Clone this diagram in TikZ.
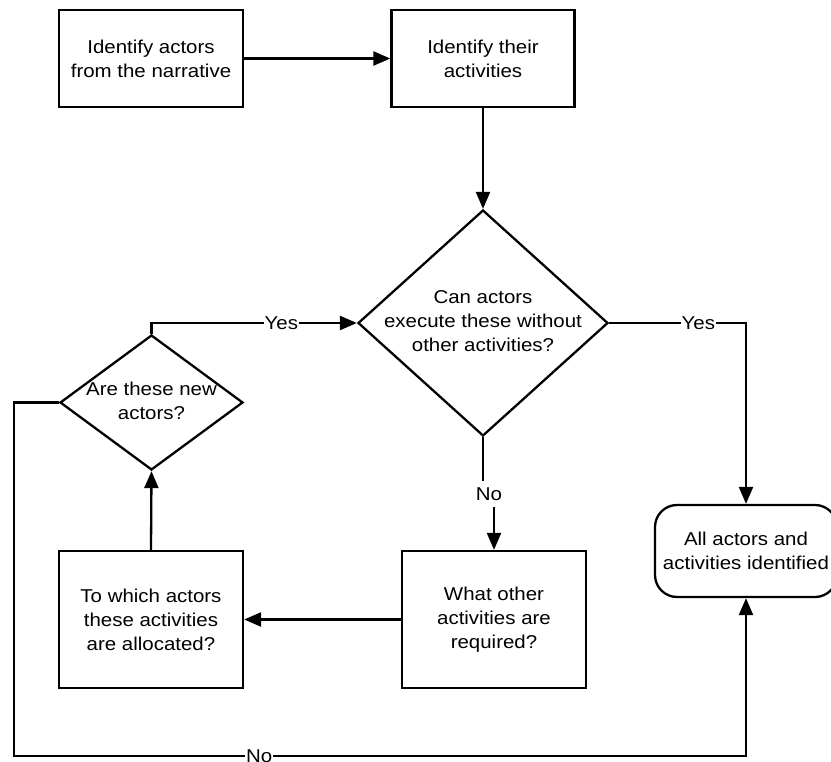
\documentclass[tikz,border=0pt]{standalone}
\usepackage{fontspec}
\setmainfont{Liberation Sans}[FakeStretch=1.1]
\usetikzlibrary{arrows.meta,shapes.geometric}
\begin{document}
\begin{tikzpicture}[x=1pt,y=-1pt,
  line width=2.3pt,
  every node/.style={font=\fontsize{18.6}{24}\selectfont},
  stepbox/.style={draw, line width=2.3pt, minimum width=184pt, inner sep=0pt, align=center},
  endbox/.style={draw, line width=2.3pt, rounded corners=22pt, minimum width=182pt,
                 minimum height=92pt, inner sep=0pt, align=center},
  decision/.style={draw, diamond, inner sep=0pt, line width=2.3pt},
  qtext/.style={align=center, inner sep=0pt},
  tag/.style={fill=white, inner sep=1pt},
  flow/.style={-{Triangle[length=17pt,width=14pt]}, line width=2.3pt},
]
\useasboundingbox (0,0) rectangle (831,762);

% process steps
\node[stepbox, minimum height=97pt] (b1) at (151,58.5) {Identify actors\\from the narrative};
\node[stepbox, minimum height=97pt, minimum width=183pt] (b2) at (483,58.5) {Identify their\\activities};
\node[stepbox, minimum height=137pt] (b3) at (494,619.5) {What other\\activities are\\required?};
\node[stepbox, minimum height=137pt] (b4) at (151,619.5) {To which actors\\these activities\\are allocated?};

% decisions
\node[decision, minimum width=250pt, minimum height=226pt] (d1) at (483,323) {};
\node[qtext] (t1) at (483,321) {Can actors\\execute these without\\other activities?};
\node[decision, minimum width=183pt, minimum height=135pt] (d2) at (151.5,402.5) {};
\node[qtext] (t2) at (151.5,400.5) {Are these new\\actors?};

% terminal
\node[endbox] (r) at (746,551) {All actors and\\activities identified};

% connectors
\draw[flow] (b1.east) -- (b2.west);
\draw[flow] (b2.south) -- (d1.north);
\draw[flow] (d2.north) |- node[pos=0.816, tag] {Yes} (d1.west);
\draw[flow] (d1.east) -| node[pos=0.326, tag] {Yes} (r.north);

\coordinate (noa) at (483,481);
\coordinate (nob) at (494,507);
\draw (d1.south) -- (noa);
\node[inner sep=0pt] (no1) at (489,494) {No};
\draw[flow] (nob) -- (b3.north);

\draw[flow] (b3.west) -- (b4.east);
\draw[flow] (b4.north) -- (d2.south);

\coordinate (lc1) at (14,402.5);
\coordinate (lc2) at (14,756);
\coordinate (lc3) at (746,756);
\draw[flow, line join=miter] (d2.west) -- (lc1) -- (lc2) -- node[pos=0.335, tag, inner ysep=0pt] {No} (lc3) -- (r.south);
\end{tikzpicture}
\end{document}
